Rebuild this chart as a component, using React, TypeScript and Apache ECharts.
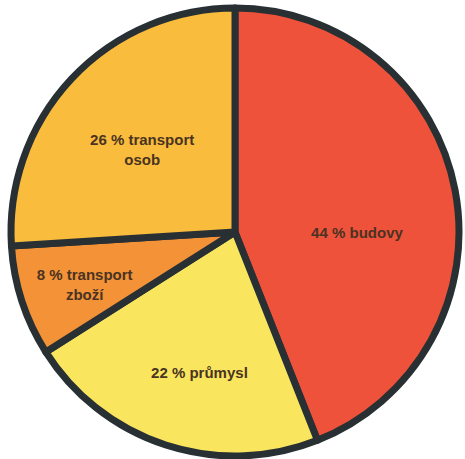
import React, { useEffect, useRef } from "react";
import * as echarts from "echarts";

const categories = ["budovy", "průmysl", "transport zboží", "transport osob"];
const values = [44, 22, 8, 26];
const labelTexts = ["44 % budovy", "22 % průmysl", "8 % transport\nzboží", "26 % transport\nosob"];
const colors = ["#EF523A", "#F9E65E", "#F39237", "#F9BC3C"];

const labelShift: [number, number][] = [
  [9, 22],
  [0, 31],
  [-41, 17],
  [-9, -4],
];

export default function App() {
  const ref = useRef<HTMLDivElement>(null);
  useEffect(() => {
    if (!ref.current) return;
    const chart = echarts.init(ref.current, undefined, { renderer: "svg" });
    chart.setOption({
      animation: false,
      backgroundColor: "#ffffff",
      series: [
        {
          type: "pie",
          center: [235, 232],
          radius: [0, 224],
          startAngle: 90,
          clockwise: true,
          avoidLabelOverlap: false,
          itemStyle: { borderColor: "#283034", borderWidth: 7, borderJoin: "round" },
          label: {
            show: true,
            position: "inside",
            fontFamily: "Liberation Sans, Arial, sans-serif",
            fontSize: 15,
            fontWeight: "bold",
            color: "#4a3322",
            lineHeight: 20,
            align: "center",
            formatter: (p: any) => labelTexts[p.dataIndex],
          },
          labelLine: { show: false },
          emphasis: { disabled: true },
          labelLayout: (p: any) => ({ dx: labelShift[p.dataIndex][0], dy: labelShift[p.dataIndex][1] }),
          data: categories.map((c, i) => ({ name: c, value: values[i], itemStyle: { color: colors[i] } })),
        },
      ],
    });
    return () => chart.dispose();
  }, []);
  return <div ref={ref} style={{ position: "fixed", left: 0, top: 0, width: 465, height: 459 }} />;
}
